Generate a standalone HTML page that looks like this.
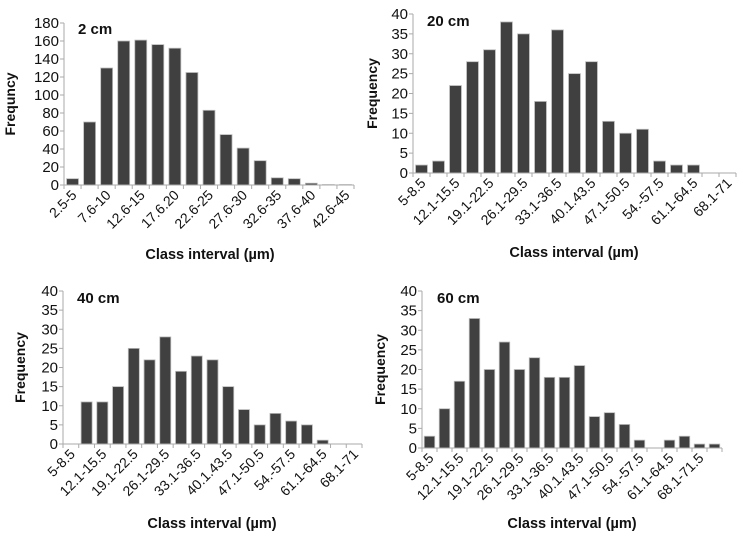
<!DOCTYPE html>
<html><head><meta charset="utf-8"><style>
body{margin:0;background:#fff}
svg text{font-family:"Liberation Sans",Arial,sans-serif;fill:#111}
</style></head><body>
<svg id="c" width="743" height="534" viewBox="0 0 743 534"></svg>
<script>
const cats2=["2.5-5","5.1-7.5","7.6-10","10.1-12.5","12.6-15","15.1-17.5","17.6.20","20.1-22.5","22.6-25","25.1-27.5","27.6-30","30.1-32.5","32.6-35","35.1-37.5","37.6-40","40.1-42.5","42.6-45"];
const vals2=[7,70,130,160,161,156,152,125,83,56,41,27,8,7,2,0.5,0.5];
const ticks2=[0,20,40,60,80,100,120,140,160,180];
const cats20=["5-8.5","8.6-12","12.1-15.5","15.6-19","19.1-22.5","22.6-26","26.1-29.5","29.6-33","33.1-36.5","36.6-40","40.1.43.5","43.6-47","47.1-50.5","50.6-54","54.-57.5","57.6-61","61.1-64.5","64.6-68","68.1-71"];
const vals20=[2,3,22,28,31,38,35,18,36,25,28,13,10,11,3,2,2,0,0];
const vals40=[0,11,11,15,25,22,28,19,23,22,15,9,5,8,6,5,1,0,0];
const cats60=["5-8.5","8.6-12","12.1-15.5","15.6-19","19.1-22.5","22.6-26","26.1-29.5","29.6-33","33.1-36.5","36.6-40","40.1.43.5","43.6-47","47.1-50.5","50.6-54","54.-57.5","57.6-61","61.1-64.5","64.6-68","68.1-71.5","71.6-75"];
const vals60=[3,10,17,33,20,27,20,23,18,18,21,8,9,6,2,0,2,3,1,1];
const ticks40=[0,5,10,15,20,25,30,35,40];
const NS="http://www.w3.org/2000/svg";
const svg=document.getElementById('c');
function mk(tag,attrs,parent,text){const e=document.createElementNS(NS,tag);for(const k in attrs)e.setAttribute(k,attrs[k]);if(text!==undefined)e.textContent=text;parent.appendChild(e);return e;}
function chart(o){
  const g=mk('g',{},svg);
  
  
  const n=o.cats.length,w=(o.x1-o.x0)/n,max=o.ticks[o.ticks.length-1];
  const y=v=>o.y0-(v/max)*(o.y0-o.yt);
  o.vals.forEach((v,i)=>{
    if(v<=0)return;
    const b=mk('rect',{x:o.x0+i*w+w*0.15,y:y(v),width:w*0.7,height:o.y0-y(v),fill:'#404040',stroke:'#bbb','stroke-width':0.8},g);
    
    
  });
  const ax=mk('path',{d:`M${o.x0},${o.yt} V${o.y0} H${o.x1}`,stroke:'#aaa',fill:'none','stroke-width':1},g);
  
  
  for(let i=0;i<=n;i++)mk('line',{x1:o.x0+i*w,x2:o.x0+i*w,y1:o.y0,y2:o.y0+4,stroke:'#aaa'},g);
  o.ticks.forEach(t=>{
    mk('line',{x1:o.x0-4,x2:o.x0,y1:y(t),y2:y(t),stroke:'#aaa'},g);
    const tl=mk('text',{x:o.x0-5,y:y(t)+5,'text-anchor':'end','font-size':15},g,String(t));
    
    
  });
  o.cats.forEach((c,i)=>{
    if(i%2)return;
    const cx=o.x0+(i+0.5)*w+5,cy=o.y0+11;
    const tl=mk('text',{x:cx,y:cy,'text-anchor':'end','font-size':14,transform:`rotate(-45 ${cx} ${cy})`},g,c);
    
    
  });
  const yt=mk('text',{x:o.ytx,y:(o.yt+o.y0)/2,'text-anchor':'middle','font-size':14,'font-weight':'bold',transform:`rotate(-90 ${o.ytx} ${(o.yt+o.y0)/2})`},g,o.ytitle);
  
  
  const xt=mk('text',{x:o.xtx,y:o.xty,'text-anchor':'middle','font-size':14.5,'font-weight':'bold'},g,'Class interval (µm)');
  
  
  const ti=mk('text',{x:o.tx,y:o.ty,'font-size':15,'font-weight':'bold'},g,o.title);
  
  
}
chart({name:'chart-2cm',cats:cats2,vals:vals2,ticks:ticks2,x0:64,x1:354,yt:23,y0:185,ytitle:'Frequncy',ytx:15,xtx:210,xty:259,title:'2 cm',tx:78,ty:34});
chart({name:'chart-20cm',cats:cats20,vals:vals20,ticks:ticks40,x0:413,x1:736,yt:14,y0:173,ytitle:'Frequency',ytx:377,xtx:574,xty:257,title:'20 cm',tx:427,ty:26});
chart({name:'chart-40cm',cats:cats20,vals:vals40,ticks:ticks40,x0:63,x1:362,yt:291,y0:444,ytitle:'Frequency',ytx:25,xtx:212,xty:528,title:'40 cm',tx:77,ty:303});
chart({name:'chart-60cm',cats:cats60,vals:vals60,ticks:ticks40,x0:422,x1:722,yt:291,y0:448,ytitle:'Frequency',ytx:385,xtx:572,xty:528,title:'60 cm',tx:437,ty:303});
</script>
</body></html>
